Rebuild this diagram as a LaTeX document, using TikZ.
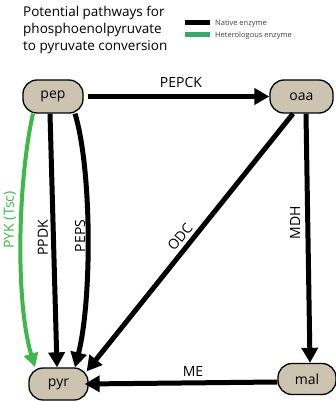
\documentclass[tikz,border=0pt]{standalone}
\usepackage{fontspec}
\setmainfont{Open Sans}
\usetikzlibrary{arrows.meta}
\definecolor{nodefill}{RGB}{204,196,176}
\definecolor{pykgreen}{RGB}{62,184,74}
\definecolor{leggreen}{RGB}{58,168,110}
\begin{document}
\begin{tikzpicture}[x=1pt,y=-1pt,
 met/.style={draw=black, line width=1.3pt, fill=nodefill, rounded corners=14pt, minimum height=33pt, font=\fontsize{14}{14}\selectfont, inner sep=0pt},
 conv/.style={line width=5pt, -{Triangle[length=15pt,width=16pt]}},
 lab/.style={font=\fontsize{14}{14}\selectfont, inner sep=0pt},
 legtxt/.style={anchor=west, font=\fontsize{7.5}{8}\selectfont, text=black!75, inner sep=0pt},
 legbar/.style={minimum width=25pt, minimum height=5pt, inner sep=0pt}]
\useasboundingbox[fill=white] (0,0) rectangle (336,401);

\node[anchor=north west, align=left, font=\fontsize{13.5}{17}\selectfont, inner sep=0pt] (title) at (23,6) {Potential pathways for\\phosphoenolpyruvate\\to pyruvate conversion};

\node[legbar, fill=black] (legn) at (197.5,22.5) {};
\node[legtxt] (legnt) at (215,23.5) {Native enzyme};
\node[legbar, fill=leggreen] (legh) at (197.5,35) {};
\node[legtxt] (leght) at (215,36) {Heterologous enzyme};

\node[met, minimum width=60pt] (pep) at (53,96.5) {pep};
\node[met, minimum width=63pt] (oaa) at (301.5,96.5) {oaa};
\node[met, minimum width=59pt, minimum height=32pt] (pyr) at (58.5,384) {pyr};
\node[met, minimum width=58pt, minimum height=31pt] (mal) at (307,379) {mal};

\draw[conv] ([xshift=4pt]pep.east) -- (oaa.west);
\draw[line width=4pt, pykgreen, -{Triangle[length=14pt,width=14pt]}] ([xshift=-20pt]pep.south) .. controls (18,180) and (15,300) .. ([xshift=-23.5pt]pyr.north);
\draw[conv] ([xshift=-3pt]pep.south) -- ([xshift=-1.5pt]pyr.north);
\draw[conv] ([xshift=22pt]pep.south) .. controls (92,170) and (92,300) .. ([xshift=16.5pt]pyr.north);
\draw[conv] ([xshift=-8.5pt]oaa.south) -- ([shift={(-2pt,-4pt)}]pyr.north east);
\draw[conv] ([xshift=4.5pt]oaa.south) -- ([xshift=3pt]mal.north);
\draw[conv] ([yshift=-3pt]mal.west) -- ([xshift=-4pt]pyr.east);

\node[lab] (lpepck) at (181,82.5) {PEPCK};
\node[lab] (lme) at (193,371) {ME};
\node[lab, rotate=90] (lppdk) at (43,238) {PPDK};
\node[lab, rotate=90] (lpeps) at (80,236) {PEPS};
\node[lab, rotate=90, text=pykgreen] (lpyk) at (10,220) {PYK (Tsc)};
\node[lab, rotate=51] (lodc) at (180,237) {ODC};
\node[lab, rotate=90] (lmdh) at (295,223) {MDH};
\end{tikzpicture}
\end{document}
